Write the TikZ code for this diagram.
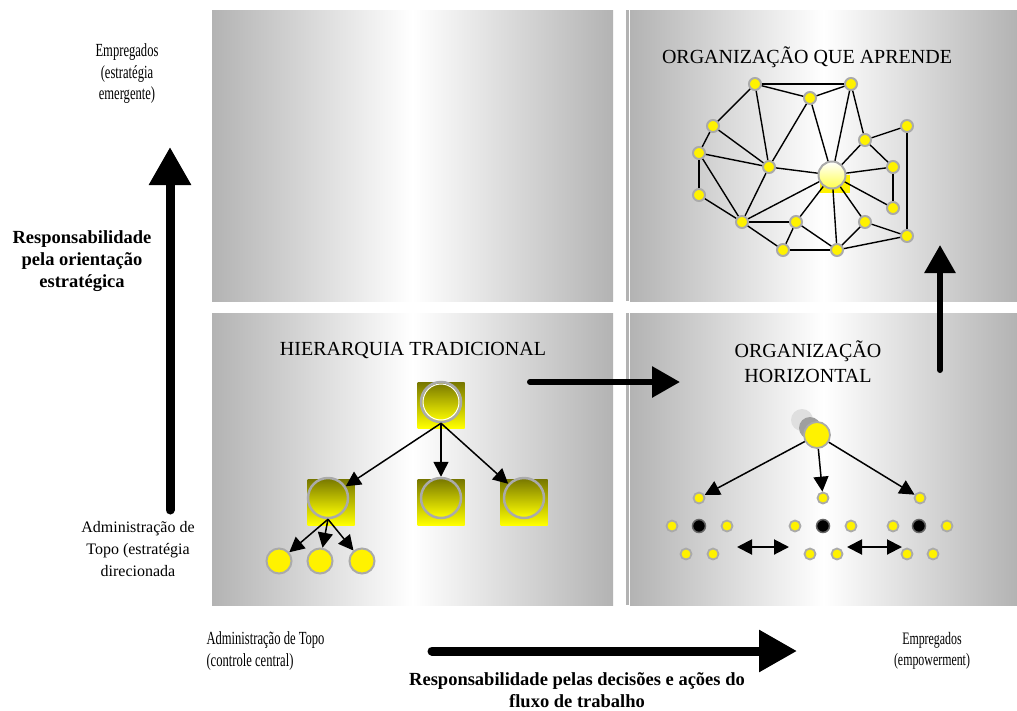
\documentclass[tikz,border=0pt]{standalone}
\usepackage{fontspec}
\setmainfont{Liberation Serif}
\newfontfamily\narrowfont[FakeStretch=0.68]{Liberation Serif}
\usetikzlibrary{arrows.meta}

\definecolor{panelgray}{RGB}{179,179,179}
\definecolor{darkolive}{RGB}{118,118,0}
\definecolor{ballgray}{RGB}{170,170,170}

\begin{document}
\begin{tikzpicture}[x=1pt, y=-1pt,
    panel/.style={left color=panelgray, right color=panelgray, middle color=white},
    paneltitle/.style={font=\fontsize{20}{25}\selectfont, align=center},
    sidetext/.style={font=\narrowfont\fontsize{18.5}{21.5}\selectfont, align=center},
    boldtext/.style={font=\bfseries\fontsize{18.5}{22}\selectfont, align=center},
    bigarrow/.style={line width=9pt, line cap=round, -{Triangle[length=38pt, width=40pt]}},
    midarrow/.style={line width=6pt, line cap=round, -{Triangle[length=28pt, width=30pt]}},
    hsquare/.style={minimum width=47, minimum height=46, inner sep=0, top color=darkolive, bottom color=yellow},
    hball/.style={circle, minimum size=40, inner sep=0, top color=darkolive, bottom color=yellow, draw=ballgray, line width=2.5pt},
    leaf/.style={circle, minimum size=25, inner sep=0, fill=yellow, draw=ballgray, line width=2pt},
    harrow/.style={line width=1.5pt, -{Triangle[length=15pt, width=15pt]}},
    smalldot/.style={circle, minimum size=11, inner sep=0, fill=yellow, draw=ballgray, line width=1.8pt},
    blackdot/.style={circle, minimum size=13, inner sep=0, fill=black, draw=black!60, line width=1.5pt},
    netdot/.style={circle, minimum size=12, inner sep=0, fill=yellow, draw=ballgray, line width=2pt},
    netedge/.style={line width=1.4pt}]

    \useasboundingbox (0,0) rectangle (1017,710);

    \shade[panel] (212,10) rectangle (613,301);
    \shade[panel] (212,313) rectangle (613,605);
    \shade[panel] (630,10) rectangle (1017,301);
    \shade[panel] (630,313) rectangle (1017,605);
    \fill[panelgray] (626,10) rectangle (629,301);
    \fill[panelgray] (626,313) rectangle (629,605);

    \node[sidetext] (emptop) at (127,74) {Empregados\\(estratégia\\emergente)};
    \node[boldtext] (resp) at (82,261) {Responsabilidade\\pela orientação\\estratégica};
    \node[sidetext, font=\fontsize{16}{22}\selectfont] (admtop) at (138,549) {Administração de\\Topo (estratégia\\direcionada};
    \node[sidetext, align=left, anchor=west] (admctl) at (203,651) {Administração de Topo\\(controle central)};
    \node[sidetext, font=\narrowfont\fontsize{17.5}{21.5}\selectfont] (empow) at (932,651) {Empregados\\(empowerment)};
    \node[boldtext] (fluxo) at (577,690) {Responsabilidade pelas decisões e ações do\\fluxo de trabalho};

    \coordinate (vlow) at (170,510);
    \coordinate (vhigh) at (170,147);
    \draw[bigarrow] (vlow) -- (vhigh);
    \coordinate (hleft) at (432,651);
    \coordinate (hright) at (797,651);
    \draw[bigarrow] (hleft) -- (hright);

    \node[paneltitle] (hiertitle) at (413,350) {HIERARQUIA TRADICIONAL};
    \node[paneltitle] (learntitle) at (807,57) {ORGANIZAÇÃO QUE APRENDE};
    \node[paneltitle] (horiztitle) at (808,362) {ORGANIZAÇÃO\\HORIZONTAL};

    \coordinate (mleft) at (530,382);
    \coordinate (mright) at (680,382);
    \draw[midarrow] (mleft) -- (mright);
    \coordinate (rlow) at (940,370);
    \coordinate (rhigh) at (940,245);
    \draw[midarrow] (rlow) -- (rhigh);

    \node[hsquare] (sq0) at (441,405) {};
    \node[hsquare] (sq1) at (331,502) {};
    \node[hsquare] (sq2) at (441,502) {};
    \node[hsquare] (sq3) at (524,502) {};
    \node[hball] (top) at (441,402) {};
    \node[draw=white, line width=1pt, circle, minimum size=36, inner sep=0] (topring) at (441,402) {};
    \node[hball] (chefe1) at (328,498) {};
    \node[hball] (chefe2) at (441,498) {};
    \node[hball] (chefe3) at (524,498) {};
    \node[leaf] (op1) at (279,561) {};
    \node[leaf] (op2) at (320,561) {};
    \node[leaf] (op3) at (362,561) {};

    \draw[harrow] (top.south) -- (chefe1);
    \draw[harrow] (top.south) -- (chefe2);
    \draw[harrow] (top.south) -- (chefe3);
    \draw[harrow] (chefe1.south) -- (op1);
    \draw[harrow] (chefe1.south) -- (op2);
    \draw[harrow] (chefe1.south) -- (op3);

    \fill[gray!25] (802,420) circle[radius=11];
    \fill[gray!75] (810,428) circle[radius=11];
    \node[smalldot, minimum size=26] (boss) at (817,435) {};
    \node[smalldot] (a1) at (699,498) {};
    \node[smalldot] (a2) at (823,498) {};
    \node[smalldot] (a3) at (920,498) {};
    \node[smalldot] (b1) at (672,526) {};
    \node[blackdot] (k1) at (699,526) {};
    \node[smalldot] (b2) at (727,526) {};
    \node[smalldot] (b3) at (795,526) {};
    \node[blackdot] (k2) at (823,526) {};
    \node[smalldot] (b4) at (851,526) {};
    \node[smalldot] (b5) at (893,526) {};
    \node[blackdot] (k3) at (919,526) {};
    \node[smalldot] (b6) at (947,526) {};
    \node[smalldot] (c1) at (686,554) {};
    \node[smalldot] (c2) at (713,554) {};
    \node[smalldot] (c3) at (810,554) {};
    \node[smalldot] (c4) at (837,554) {};
    \node[smalldot] (c5) at (907,554) {};
    \node[smalldot] (c6) at (933,554) {};

    \draw[harrow] (boss) -- (a1);
    \draw[harrow] (boss) -- (a2);
    \draw[harrow] (boss) -- (a3);
    \coordinate (d1) at (737,547);
    \coordinate (d2) at (789,547);
    \coordinate (d3) at (847,547);
    \coordinate (d4) at (902,547);
    \draw[harrow, line width=2pt, {Triangle[length=15pt, width=15pt]}-{Triangle[length=15pt, width=15pt]}] (d1) -- (d2);
    \draw[harrow, line width=2pt, {Triangle[length=15pt, width=15pt]}-{Triangle[length=15pt, width=15pt]}] (d3) -- (d4);

    \node[netdot] (n1) at (755,84) {};
    \node[netdot] (n2) at (851,84) {};
    \node[netdot] (n3) at (810,98) {};
    \node[netdot] (n4) at (713,126) {};
    \node[netdot] (n5) at (907,126) {};
    \node[netdot] (n6) at (865,140) {};
    \node[netdot] (n7) at (699,153) {};
    \node[netdot] (n8) at (769,167) {};
    \node[netdot] (n9) at (893,167) {};
    \node[netdot] (n10) at (699,195) {};
    \node[netdot] (n11) at (893,208) {};
    \node[netdot] (n12) at (742,222) {};
    \node[netdot] (n13) at (796,222) {};
    \node[netdot] (n14) at (865,222) {};
    \node[netdot] (n15) at (907,236) {};
    \node[netdot] (n16) at (783,250) {};
    \node[netdot] (n17) at (837,250) {};
    \node[fill=yellow, minimum width=30, minimum height=18, inner sep=0] (csq) at (835,184) {};
    \node[circle, minimum size=27, inner sep=0, top color=white, bottom color=yellow!70, draw=ballgray, line width=2pt] (c) at (832,175) {};

    \draw[netedge] (n1) -- (n2);
    \draw[netedge] (n1) -- (n3);
    \draw[netedge] (n1) -- (n4);
    \draw[netedge] (n1) -- (n8);
    \draw[netedge] (n3) -- (n2);
    \draw[netedge] (n3) -- (c);
    \draw[netedge] (n3) -- (n8);
    \draw[netedge] (n2) -- (c);
    \draw[netedge] (n2) -- (n6);
    \draw[netedge] (n6) -- (n5);
    \draw[netedge] (n5) -- (n15);
    \draw[netedge] (n6) -- (c);
    \draw[netedge] (n6) -- (n9);
    \draw[netedge] (n9) -- (c);
    \draw[netedge] (n9) -- (n11);
    \draw[netedge] (n11) -- (c);
    \draw[netedge] (n4) -- (n7);
    \draw[netedge] (n4) -- (n8);
    \draw[netedge] (n7) -- (n10);
    \draw[netedge] (n7) -- (n8);
    \draw[netedge] (n7) -- (n12);
    \draw[netedge] (n10) -- (n12);
    \draw[netedge] (n8) -- (n12);
    \draw[netedge] (n8) -- (c);
    \draw[netedge] (n12) -- (c);
    \draw[netedge] (n12) -- (n13);
    \draw[netedge] (n12) -- (n16);
    \draw[netedge] (n13) -- (c);
    \draw[netedge] (n13) -- (n16);
    \draw[netedge] (n13) -- (n17);
    \draw[netedge] (c) -- (n17);
    \draw[netedge] (c) -- (n14);
    \draw[netedge] (n14) -- (n17);
    \draw[netedge] (n14) -- (n15);
    \draw[netedge] (n16) -- (n17);
    \draw[netedge] (n17) -- (n15);
\end{tikzpicture}
\end{document}
